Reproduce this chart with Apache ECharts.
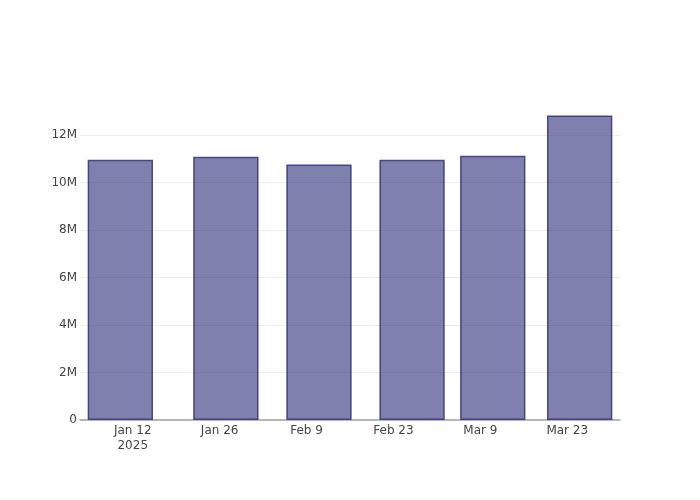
<!DOCTYPE html>
<html>
<head>
<meta charset="utf-8">
<script src="https://cdn.jsdelivr.net/npm/echarts@6/dist/echarts.min.js"></script>
<style>html,body{margin:0;padding:0;background:#fff;}#c{width:700px;height:500px;}</style>
</head>
<body>
<div id="c"></div>
<script>
// Data
var dates = ['2025-01-10', '2025-01-27', '2025-02-11', '2025-02-26', '2025-03-11', '2025-03-25'];
var values = [10950000, 11080000, 10750000, 10960000, 11120000, 12820000];
var tickDates = ['2025-01-12', '2025-01-26', '2025-02-09', '2025-02-23', '2025-03-09', '2025-03-23'];
var tickLabels = ['Jan 12\n2025', 'Jan 26', 'Feb 9', 'Feb 23', 'Mar 9', 'Mar 23'];
var yTickLabels = ['0', '2M', '4M', '6M', '8M', '10M', '12M'];

var DAY = 86400000;
var origin = Date.parse(tickDates[0] + 'T00:00:00Z');
function dayOffset(s) { return (Date.parse(s + 'T00:00:00Z') - origin) / DAY; }
var tickOffsets = tickDates.map(dayOffset);
var seriesData = dates.map(function (d, i) { return [dayOffset(d), values[i]]; });

var font = 'DejaVu Sans, sans-serif';
var chart = echarts.init(document.getElementById('c'), null, { renderer: 'canvas' });
chart.setOption({
  animation: false,
  backgroundColor: '#fff',
  grid: { left: 80, right: 80, top: 100, bottom: 80, containLabel: false },
  xAxis: {
    type: 'value',
    min: -8.5,
    max: 78.5,
    interval: 0.5,
    axisLine: { show: true, lineStyle: { color: '#a0a0a0', width: 1.5 } },
    axisTick: { show: false },
    splitLine: { show: false },
    axisLabel: {
      color: '#444',
      fontFamily: font,
      fontSize: 12,
      lineHeight: 15,
      margin: 3,
      hideOverlap: false,
      formatter: function (v) {
        var r = Math.round(v * 1000) / 1000;
        var idx = tickOffsets.indexOf(r);
        return idx >= 0 ? tickLabels[idx] : '';
      }
    }
  },
  yAxis: {
    type: 'value',
    min: 0,
    max: 13470000,
    interval: 2000000,
    axisLine: { show: false },
    axisTick: { show: false },
    splitLine: { show: true, showMaxLine: false, showMinLine: false, lineStyle: { color: '#eeeeee', width: 1 } },
    axisLabel: {
      color: '#444',
      fontFamily: font,
      fontSize: 12,
      margin: 3,
      formatter: function (v) {
        var idx = Math.round(v / 2000000);
        if (Math.abs(v - idx * 2000000) > 1) return '';
        return yTickLabels[idx] || '';
      }
    }
  },
  series: [{
    type: 'bar',
    data: seriesData,
    barWidth: '81%',
    itemStyle: {
      color: 'rgba(60,60,130,0.65)',
      borderColor: 'rgba(50,50,120,0.85)',
      borderWidth: 1.5
    }
  }]
});
</script>
</body>
</html>
